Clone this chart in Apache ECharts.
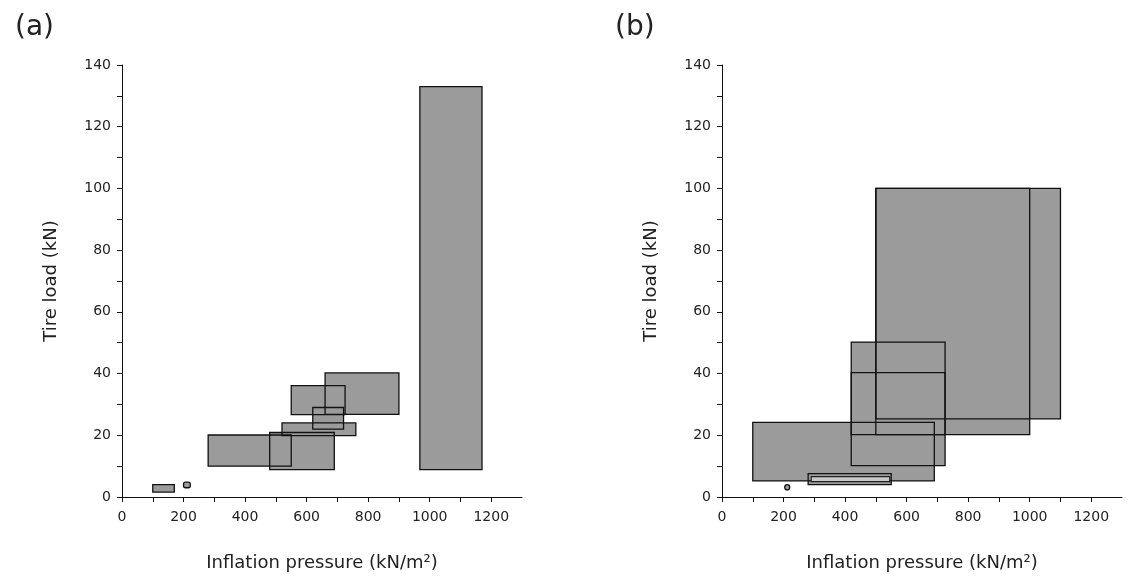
<!DOCTYPE html>
<html lang="en">
<head>
<meta charset="UTF-8">
<title>Tire load vs inflation pressure</title>
<style>
    html,body{margin:0;padding:0;background:#fff;}
    #chartmain{width:1128px;height:576px;}
</style>
</head>
<body>
<div id="chartmain"></div>
<script src="https://cdn.jsdelivr.net/npm/echarts@6/dist/echarts.min.js"></script>
<script>
// panel (a) boxes: pressure range x0-x1, load range y0-y1
var aX0 = [100, 280, 480, 520, 620, 550, 660, 968];
var aX1 = [170, 550, 690, 760, 720, 725, 900, 1170];
var aY0 = [1.6, 10, 8.9, 19.9, 22, 26.7, 26.8, 8.9];
var aY1 = [4.0, 20.1, 20.9, 24, 29, 36.1, 40.2, 133];
// small round mark in (a)
var aDot = [200, 222, 3.0, 4.8];

// panel (b) boxes
var bX0 = [100, 420, 420, 500, 500, 280];
var bX1 = [690, 725, 725, 1000, 1100, 550];
var bY0 = [5.2, 10.2, 20.2, 20.2, 25.3, 4.0];
var bY1 = [24.2, 50.2, 40.3, 100, 100, 7.6];
// inner strip of the thin box in (b)
var bInner = [290, 545, 5.0, 6.6];
var bDot = [204, 220, 2.3, 4.0];

var xTicks = [0, 200, 400, 600, 800, 1000, 1200];
var yTicks = [0, 20, 40, 60, 80, 100, 120, 140];

var FONT = 'DejaVu Sans, Liberation Sans, sans-serif';

function boxes(x0, x1, y0, y1) {
    var out = [];
    for (var i = 0; i < x0.length; i++) out.push([x0[i], x1[i], y0[i], y1[i]]);
    return out;
}

function rectItem(fill, stroke, lw, radius) {
    return function (params, api) {
        var p0 = api.coord([api.value(0), api.value(3)]);
        var p1 = api.coord([api.value(1), api.value(2)]);
        return {
            type: 'rect',
            shape: {x: p0[0], y: p0[1], width: p1[0] - p0[0], height: p1[1] - p0[1], r: radius || 0},
            style: {fill: fill, stroke: stroke, lineWidth: lw}
        };
    };
}

var labelFont = {fontFamily: FONT, fontSize: 14, color: '#222'};
var nameFont = {fontFamily: FONT, fontSize: 18, color: '#222'};

function xAxis(idx) {
    return {
        gridIndex: idx, type: 'value', min: 0, max: 1300, interval: 100,
        name: 'Inflation pressure (kN/m²)', nameLocation: 'middle', nameGap: 57,
        nameTextStyle: nameFont,
        axisLine: {lineStyle: {color: '#111', width: 1}},
        axisTick: {inside: false, length: 5, lineStyle: {color: '#111'}},
        axisLabel: Object.assign({margin: 13, showMaxLabel: false, formatter: function (v) {
            return xTicks.indexOf(v) >= 0 ? String(v) : '';
        }}, labelFont),
        splitLine: {show: false}
    };
}

function yAxis(idx) {
    return {
        gridIndex: idx, type: 'value', min: 0, max: 140, interval: 10,
        name: 'Tire load (kN)', nameLocation: 'middle', nameGap: 62,
        nameTextStyle: nameFont,
        axisLine: {show: true, lineStyle: {color: '#111', width: 1}},
        axisTick: {show: true, inside: false, length: 5, lineStyle: {color: '#111'}},
        axisLabel: Object.assign({margin: 11, formatter: function (v) {
            return yTicks.indexOf(v) >= 0 ? String(v) : '';
        }}, labelFont),
        splitLine: {show: false}
    };
}

var fillCol = '#9b9b9b';
var aData = boxes(aX0, aX1, aY0, aY1);
var bData = boxes(bX0, bX1, bY0, bY1);

var option = {
    animation: false,
    backgroundColor: '#fff',
    title: [
        {text: '(a)', left: 10, top: 9, textStyle: {fontFamily: FONT, fontSize: 28, fontWeight: 'normal', color: '#222'}},
        {text: '(b)', left: 610, top: 9, textStyle: {fontFamily: FONT, fontSize: 28, fontWeight: 'normal', color: '#222'}}
    ],
    grid: [
        {left: 122, top: 65, width: 400, height: 432, outerBoundsMode: 'none', containLabel: false},
        {left: 722, top: 65, width: 400, height: 432, outerBoundsMode: 'none', containLabel: false}
    ],
    xAxis: [xAxis(0), xAxis(1)],
    yAxis: [yAxis(0), yAxis(1)],
    series: [
        {type: 'custom', xAxisIndex: 0, yAxisIndex: 0, renderItem: rectItem(fillCol, null, 0), data: aData, z: 2},
        {type: 'custom', xAxisIndex: 0, yAxisIndex: 0, renderItem: rectItem(null, '#111', 1.3), data: aData, z: 3},
        {type: 'custom', xAxisIndex: 0, yAxisIndex: 0, renderItem: rectItem(fillCol, '#111', 1.3, 2), data: [aDot], z: 3},
        {type: 'custom', xAxisIndex: 1, yAxisIndex: 1, renderItem: rectItem(fillCol, null, 0), data: bData, z: 2},
        {type: 'custom', xAxisIndex: 1, yAxisIndex: 1, renderItem: rectItem(null, '#111', 1.3), data: bData, z: 3},
        {type: 'custom', xAxisIndex: 1, yAxisIndex: 1, renderItem: rectItem('#c8c8c8', '#222', 1.2), data: [bInner], z: 4},
        {type: 'custom', xAxisIndex: 1, yAxisIndex: 1, renderItem: rectItem(fillCol, '#111', 1.3, 4), data: [bDot], z: 3}
    ]
};

var myChart = echarts.init(document.getElementById('chartmain'));
myChart.setOption(option);
</script>
</body>
</html>
